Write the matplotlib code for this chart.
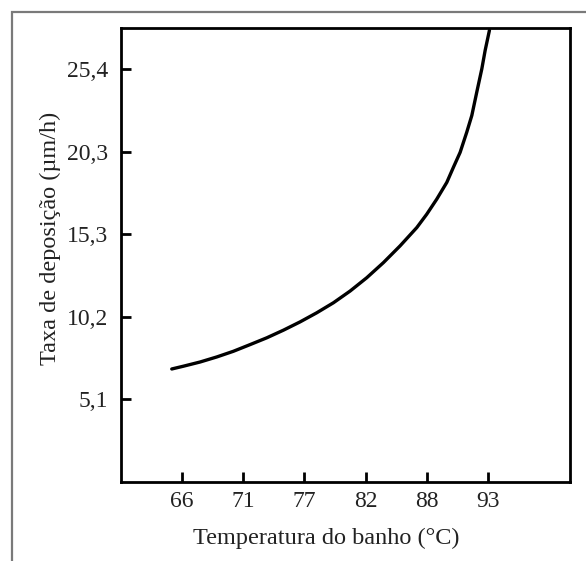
import numpy as np
import matplotlib
matplotlib.use("Agg")
import matplotlib.pyplot as plt
from matplotlib.patches import Rectangle

plt.rcParams['font.family'] = ['Liberation Serif', 'DejaVu Serif']

# Deposition rate vs bath temperature
temp_c = [64.63, 65.68, 67.20, 68.71, 70.22, 71.73, 73.25, 74.76, 76.27,
          77.78, 79.30, 80.81, 82.32, 83.83, 85.34, 86.86, 87.76, 88.67,
          89.58, 90.18, 90.79, 91.39, 91.85, 92.30, 92.76, 93.06, 93.45]
rate = [6.94, 7.11, 7.37, 7.68, 8.03, 8.44, 8.86, 9.33, 9.84,
        10.40, 11.02, 11.74, 12.56, 13.49, 14.52, 15.65, 16.47, 17.40,
        18.43, 19.36, 20.28, 21.52, 22.55, 23.99, 25.43, 26.56, 27.80]

# ticks sit on round Fahrenheit / mil-per-hour values
xticks = [65.56, 71.11, 76.67, 82.22, 87.78, 93.33]
xtick_labels = ["66", "71", "77", "82", "88", "93"]
yticks = [5.08, 10.16, 15.24, 20.32, 25.4]
ytick_labels = ["5,1", "10,2", "15,3", "20,3", "25,4"]

fig = plt.figure(figsize=(5.86, 5.61), dpi=100)
fig.patches.append(Rectangle((12 / 586, -0.1), 1.2, 1.1 - 12 / 561,
                             transform=fig.transFigure, fill=False,
                             edgecolor='#7a7a7a', linewidth=1.6))

ax = fig.add_axes([0.206, 0.1414, 0.7675, 0.8087])
ax.plot(temp_c, rate, color='black', linewidth=2.4,
        solid_capstyle='round', solid_joinstyle='round')

ax.set_xlim(60, 100.8)
ax.set_ylim(0, 27.94)
ax.set_xticks(xticks)
ax.set_xticklabels(xtick_labels)
ax.set_yticks(yticks)
ax.set_yticklabels(ytick_labels)

for s in ax.spines.values():
    s.set_linewidth(2.0)
ax.tick_params(direction='in', length=7, width=2, labelsize=17,
               labelcolor='#222222')
ax.tick_params(axis='y', pad=9)
ax.tick_params(axis='x', pad=7)

ax.set_xlabel("Temperatura do banho (°C)", fontsize=17.5, color='#222222', labelpad=11)
ax.set_ylabel("Taxa de deposição (µm/h)", fontsize=17.5, color='#222222', labelpad=4)
# labels sit a little off the axes centre
ax.xaxis.label.set_x(0.4575)
ax.yaxis.label.set_y(0.536)

fig.savefig("out.png", dpi=100)
